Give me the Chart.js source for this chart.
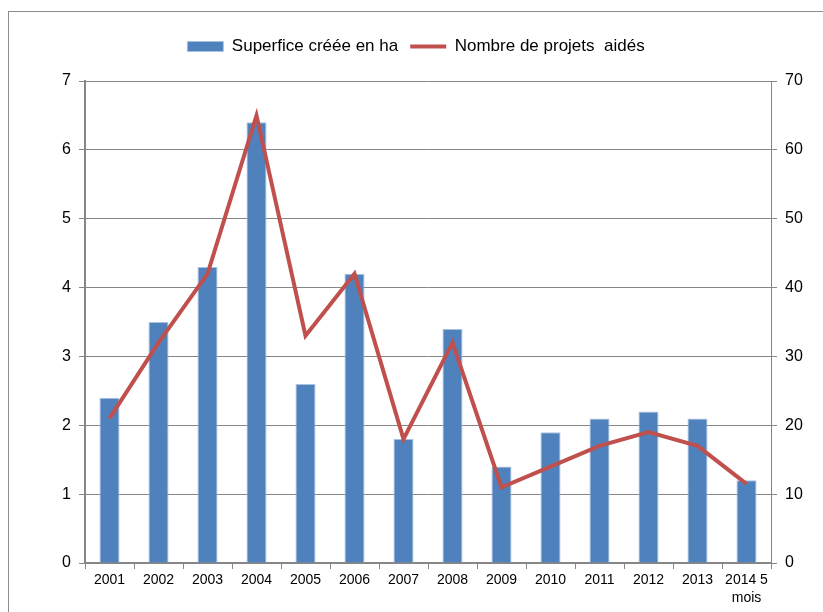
<!DOCTYPE html>
<html>
<head>
<meta charset="utf-8">
<script src="https://cdn.jsdelivr.net/npm/chart.js@4"></script>
<style>
  body { margin: 0; background: #fff; overflow: hidden; }
  #frame { position: absolute; left: 8px; top: 11px; width: 900px; height: 700px; border: 1px solid #8c8c8c; }
  #wrap { position: absolute; left: 0; top: 0; width: 814px; height: 600px; }
</style>
</head>
<body>
<div id="frame"><div id="wrap"><canvas id="chart"></canvas></div></div>
<script>
const years = ['2001', '2002', '2003', '2004', '2005', '2006', '2007', '2008', '2009', '2010', '2011', '2012', '2013', ['2014 5', 'mois']];
const superficie = [2.4, 3.5, 4.3, 6.4, 2.6, 4.2, 1.8, 3.4, 1.4, 1.9, 2.1, 2.2, 2.1, 1.2];
const projets = [21, 32, 42, 65, 33, 42, 18, 32, 11, 14, 17, 19, 17, 11.5];

const font = "'Liberation Sans', Arial, sans-serif";
const gridColor = '#868686';

// extra room under the legend
const legendGap = {
    id: 'legendGap',
    beforeInit(chart) {
        const fit = chart.legend.fit;
        chart.legend.fit = function () {
            fit.bind(chart.legend)();
            this.height += 16;
        };
    }
};

new Chart(document.getElementById('chart'), {
    type: 'bar',
    data: {
        labels: years,
        datasets: [
            {
                type: 'line',
                label: 'Nombre de projets  aidés',
                data: projets,
                yAxisID: 'y1',
                borderColor: '#C0504D',
                backgroundColor: '#C0504D',
                borderWidth: 4,
                pointRadius: 0,
                pointStyle: 'line',
                tension: 0,
                order: 0
            },
            {
                label: 'Superfice créée en ha',
                data: superficie,
                yAxisID: 'y',
                backgroundColor: '#4F81BD',
                borderColor: '#a9c1e0',
                borderWidth: 1,
                pointStyle: 'rect',
                barPercentage: 0.41,
                categoryPercentage: 1,
                order: 1
            }
        ]
    },
    options: {
        responsive: true,
        maintainAspectRatio: false,
        animation: false,
        layout: { padding: { top: 14, right: 0, left: 0, bottom: 0 } },
        plugins: {
            tooltip: { enabled: false },
            legend: {
                position: 'top',
                reverse: true,
                labels: {
                    usePointStyle: true,
                    pointStyleWidth: 36,
                    boxHeight: 10,
                    padding: 12,
                    color: '#000',
                    font: { family: font, size: 17 }
                }
            }
        },
        scales: {
            x: {
                offset: true,
                grid: { offset: true, drawOnChartArea: false, color: gridColor, tickLength: 6 },
                border: { color: gridColor, width: 2 },
                ticks: { color: '#000', font: { family: font, size: 14, lineHeight: 1.3 }, maxRotation: 0, autoSkip: false, padding: 2 },
                afterFit: (s) => { s.height = 49; }
            },
            y: {
                position: 'left',
                min: 0,
                max: 7,
                grid: { color: gridColor, tickLength: 6 },
                border: { color: gridColor, width: 2 },
                ticks: { stepSize: 1, color: '#000', font: { family: font, size: 16 }, padding: 8 },
                afterFit: (s) => { s.width = 76; }
            },
            y1: {
                position: 'right',
                min: 0,
                max: 70,
                grid: { drawOnChartArea: false, color: gridColor, tickLength: 6 },
                border: { color: gridColor, width: 1 },
                ticks: { stepSize: 10, color: '#000', font: { family: font, size: 16 }, padding: 8 },
                afterFit: (s) => { s.width = 52; }
            }
        }
    },
    plugins: [legendGap]
});
</script>
</body>
</html>
